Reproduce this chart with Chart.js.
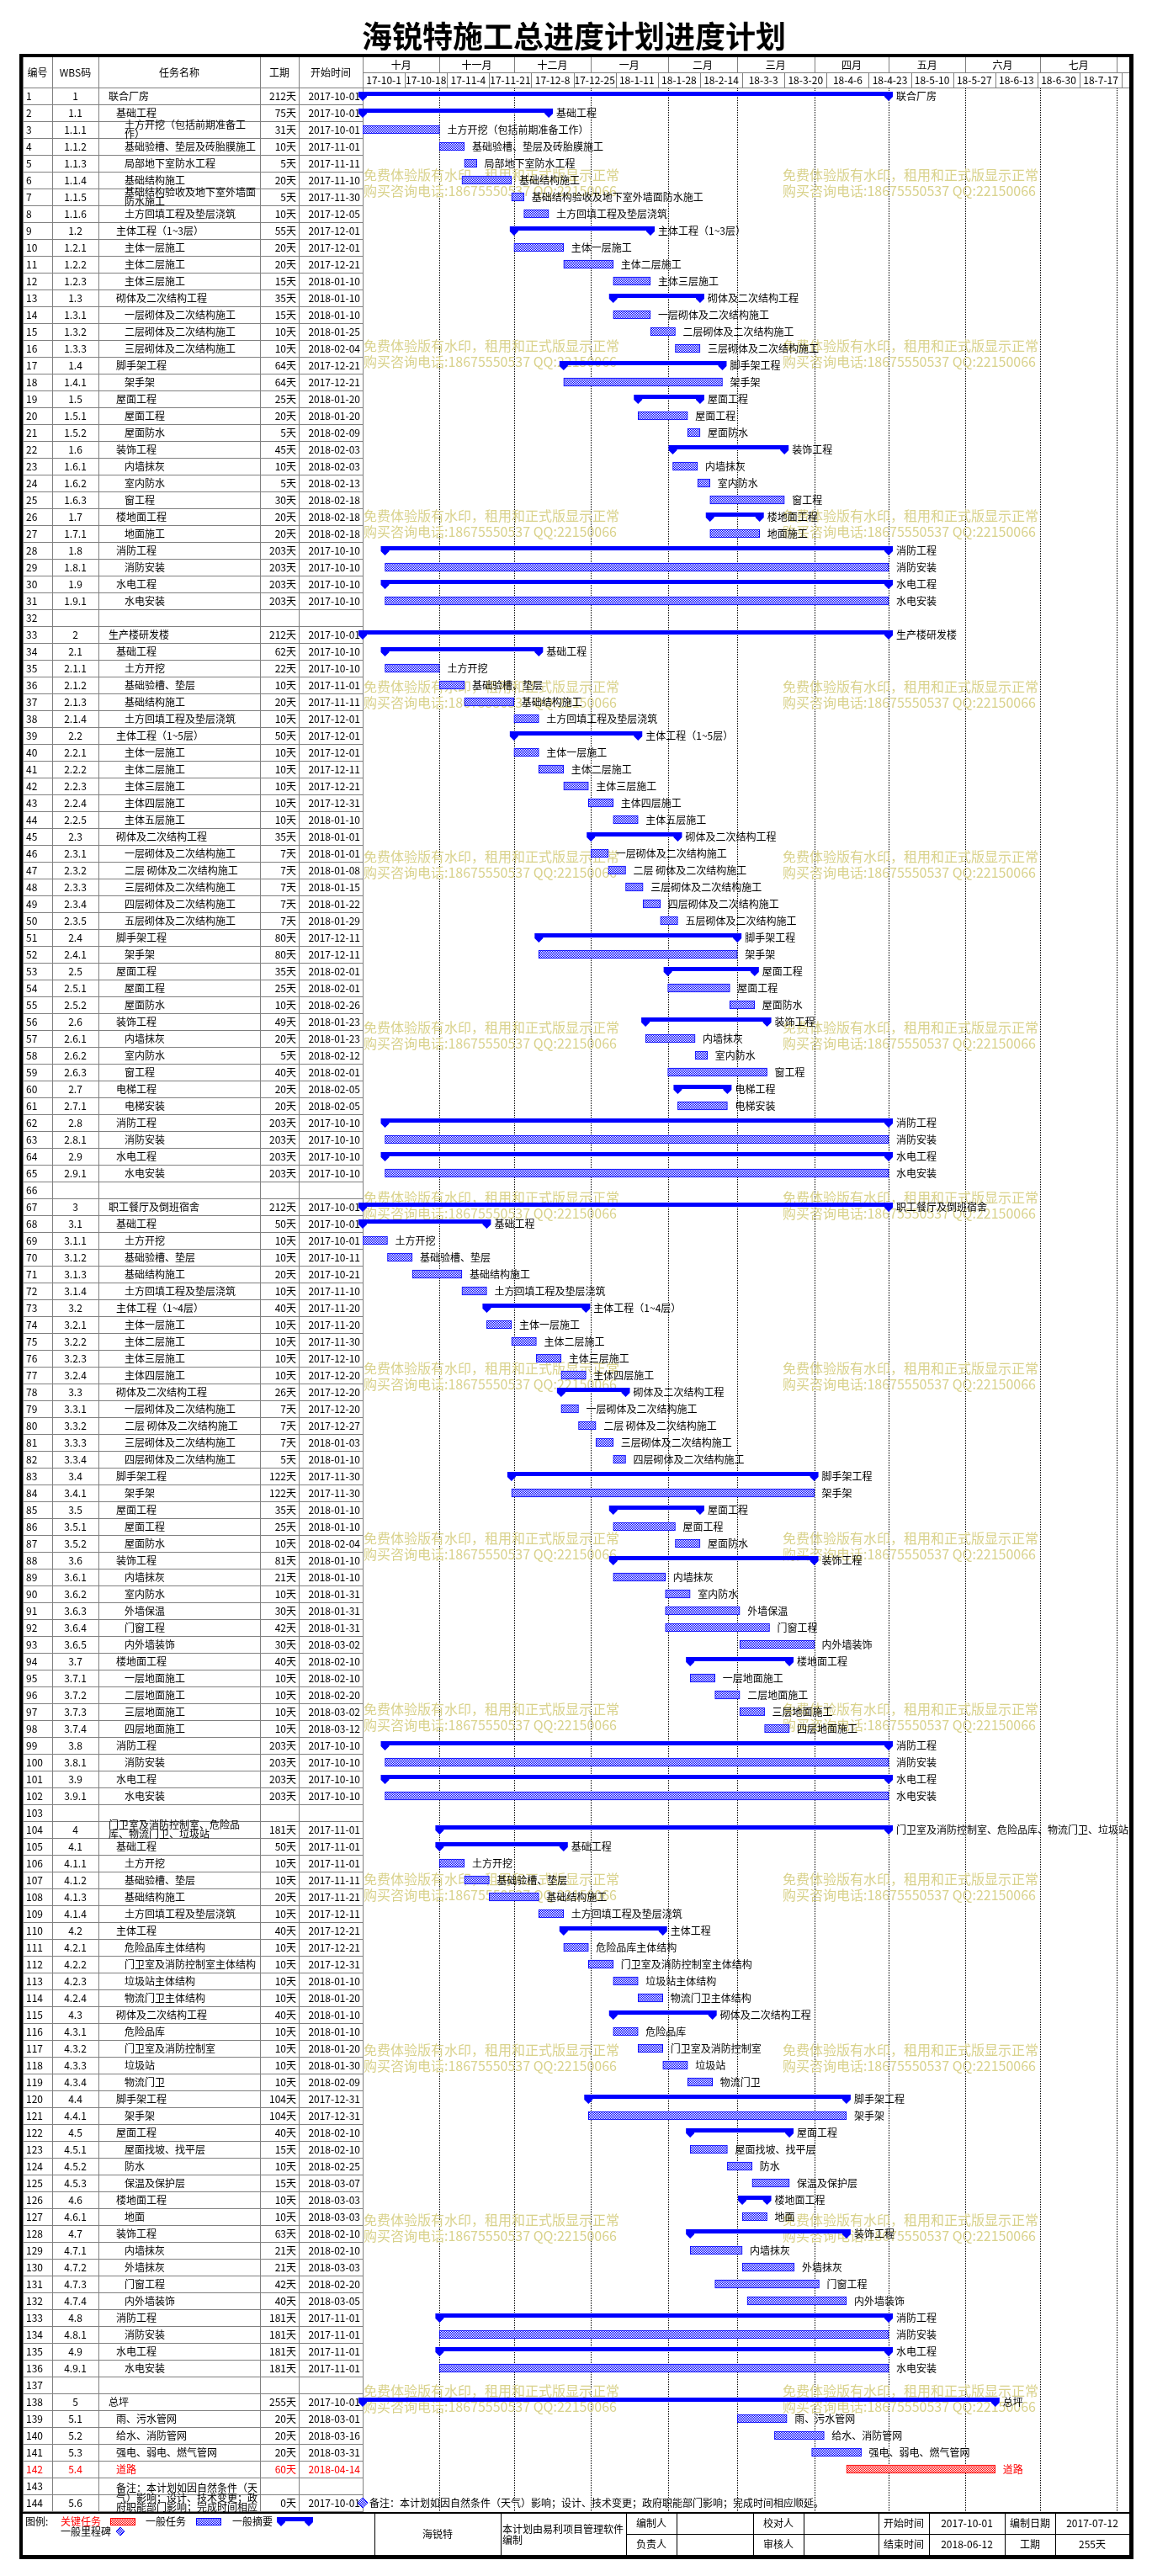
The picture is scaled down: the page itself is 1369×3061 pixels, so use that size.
<!DOCTYPE html>
<html lang="zh-CN">
<head>
    <meta charset="UTF-8">
    <title>海锐特施工总进度计划进度计划</title>
    <script src="https://cdn.jsdelivr.net/npm/chart.js"></script>
    <style>
        html, body { margin: 0; padding: 0; background: #fff; }
        canvas { display: block; }
    </style>
</head>
<body>
<canvas id="gantt" width="1369" height="3061"></canvas>
<script>
// ---- schedule data ----
const wbsCodes = [
    '1','1.1','1.1.1','1.1.2','1.1.3','1.1.4','1.1.5','1.1.6','1.2','1.2.1','1.2.2','1.2.3','1.3','1.3.1','1.3.2','1.3.3',
    '1.4','1.4.1','1.5','1.5.1','1.5.2','1.6','1.6.1','1.6.2','1.6.3','1.7','1.7.1','1.8','1.8.1','1.9','1.9.1','',
    '2','2.1','2.1.1','2.1.2','2.1.3','2.1.4','2.2','2.2.1','2.2.2','2.2.3','2.2.4','2.2.5','2.3','2.3.1','2.3.2','2.3.3','2.3.4','2.3.5',
    '2.4','2.4.1','2.5','2.5.1','2.5.2','2.6','2.6.1','2.6.2','2.6.3','2.7','2.7.1','2.8','2.8.1','2.9','2.9.1','',
    '3','3.1','3.1.1','3.1.2','3.1.3','3.1.4','3.2','3.2.1','3.2.2','3.2.3','3.2.4','3.3','3.3.1','3.3.2','3.3.3','3.3.4',
    '3.4','3.4.1','3.5','3.5.1','3.5.2','3.6','3.6.1','3.6.2','3.6.3','3.6.4','3.6.5','3.7','3.7.1','3.7.2','3.7.3','3.7.4',
    '3.8','3.8.1','3.9','3.9.1','',
    '4','4.1','4.1.1','4.1.2','4.1.3','4.1.4','4.2','4.2.1','4.2.2','4.2.3','4.2.4','4.3','4.3.1','4.3.2','4.3.3','4.3.4',
    '4.4','4.4.1','4.5','4.5.1','4.5.2','4.5.3','4.6','4.6.1','4.7','4.7.1','4.7.2','4.7.3','4.7.4','4.8','4.8.1','4.9','4.9.1','',
    '5','5.1','5.2','5.3','5.4','','5.6'
];

const taskNames = [
    '联合厂房','基础工程','土方开挖（包括前期准备工\n作）','基础验槽、垫层及砖胎膜施工','局部地下室防水工程','基础结构施工',
    '基础结构验收及地下室外墙面\n防水施工','土方回填工程及垫层浇筑','主体工程（1~3层）','主体一层施工','主体二层施工','主体三层施工',
    '砌体及二次结构工程','一层砌体及二次结构施工','二层砌体及二次结构施工','三层砌体及二次结构施工','脚手架工程','架手架',
    '屋面工程','屋面工程','屋面防水','装饰工程','内墙抹灰','室内防水','窗工程','楼地面工程','地面施工',
    '消防工程','消防安装','水电工程','水电安装','',
    '生产楼研发楼','基础工程','土方开挖','基础验槽、垫层','基础结构施工','土方回填工程及垫层浇筑',
    '主体工程（1~5层）','主体一层施工','主体二层施工','主体三层施工','主体四层施工','主体五层施工',
    '砌体及二次结构工程','一层砌体及二次结构施工','二层 砌体及二次结构施工','三层砌体及二次结构施工','四层砌体及二次结构施工','五层砌体及二次结构施工',
    '脚手架工程','架手架','屋面工程','屋面工程','屋面防水','装饰工程','内墙抹灰','室内防水','窗工程','电梯工程','电梯安装',
    '消防工程','消防安装','水电工程','水电安装','',
    '职工餐厅及倒班宿舍','基础工程','土方开挖','基础验槽、垫层','基础结构施工','土方回填工程及垫层浇筑',
    '主体工程（1~4层）','主体一层施工','主体二层施工','主体三层施工','主体四层施工',
    '砌体及二次结构工程','一层砌体及二次结构施工','二层 砌体及二次结构施工','三层砌体及二次结构施工','四层砌体及二次结构施工',
    '脚手架工程','架手架','屋面工程','屋面工程','屋面防水','装饰工程','内墙抹灰','室内防水','外墙保温','门窗工程','内外墙装饰',
    '楼地面工程','一层地面施工','二层地面施工','三层地面施工','四层地面施工','消防工程','消防安装','水电工程','水电安装','',
    '门卫室及消防控制室、危险品\n库、物流门卫、垃圾站','基础工程','土方开挖','基础验槽、垫层','基础结构施工','土方回填工程及垫层浇筑',
    '主体工程','危险品库主体结构','门卫室及消防控制室主体结构','垃圾站主体结构','物流门卫主体结构',
    '砌体及二次结构工程','危险品库','门卫室及消防控制室','垃圾站','物流门卫','脚手架工程','架手架',
    '屋面工程','屋面找坡、找平层','防水','保温及保护层','楼地面工程','地面','装饰工程','内墙抹灰','外墙抹灰','门窗工程','内外墙装饰',
    '消防工程','消防安装','水电工程','水电安装','',
    '总坪','雨、污水管网','给水、消防管网','强电、弱电、燃气管网','道路','',
    '备注：本计划如因自然条件（天\n气）影响；设计、技术变更；政\n府职能部门影响；完成时间相应\n顺延。'
];

// working days (天); null = empty row
const durations = [
    212,75,31,10,5,20,5,10,55,20,20,15,35,15,10,10,64,64,25,20,5,45,10,5,30,20,20,203,203,203,203,null,
    212,62,22,10,20,10,50,10,10,10,10,10,35,7,7,7,7,7,80,80,35,25,10,49,20,5,40,20,20,203,203,203,203,null,
    212,50,10,10,20,10,40,10,10,10,10,26,7,7,7,5,122,122,35,25,10,81,21,10,30,42,30,40,10,10,10,10,203,203,203,203,null,
    181,50,10,10,20,10,40,10,10,10,10,40,10,10,10,10,104,104,40,15,10,15,10,10,63,21,21,42,40,181,181,181,181,null,
    255,20,20,20,60,null,0
];

const startDates = [
    '2017-10-01','2017-10-01','2017-10-01','2017-11-01','2017-11-11','2017-11-10','2017-11-30','2017-12-05',
    '2017-12-01','2017-12-01','2017-12-21','2018-01-10','2018-01-10','2018-01-10','2018-01-25','2018-02-04',
    '2017-12-21','2017-12-21','2018-01-20','2018-01-20','2018-02-09','2018-02-03','2018-02-03','2018-02-13','2018-02-18',
    '2018-02-18','2018-02-18','2017-10-10','2017-10-10','2017-10-10','2017-10-10','',
    '2017-10-01','2017-10-10','2017-10-10','2017-11-01','2017-11-11','2017-12-01',
    '2017-12-01','2017-12-01','2017-12-11','2017-12-21','2017-12-31','2018-01-10',
    '2018-01-01','2018-01-01','2018-01-08','2018-01-15','2018-01-22','2018-01-29',
    '2017-12-11','2017-12-11','2018-02-01','2018-02-01','2018-02-26','2018-01-23','2018-01-23','2018-02-12','2018-02-01',
    '2018-02-05','2018-02-05','2017-10-10','2017-10-10','2017-10-10','2017-10-10','',
    '2017-10-01','2017-10-01','2017-10-01','2017-10-11','2017-10-21','2017-11-10',
    '2017-11-20','2017-11-20','2017-11-30','2017-12-10','2017-12-20',
    '2017-12-20','2017-12-20','2017-12-27','2018-01-03','2018-01-10',
    '2017-11-30','2017-11-30','2018-01-10','2018-01-10','2018-02-04',
    '2018-01-10','2018-01-10','2018-01-31','2018-01-31','2018-01-31','2018-03-02',
    '2018-02-10','2018-02-10','2018-02-20','2018-03-02','2018-03-12','2017-10-10','2017-10-10','2017-10-10','2017-10-10','',
    '2017-11-01','2017-11-01','2017-11-01','2017-11-11','2017-11-21','2017-12-11',
    '2017-12-21','2017-12-21','2017-12-31','2018-01-10','2018-01-20',
    '2018-01-10','2018-01-10','2018-01-20','2018-01-30','2018-02-09','2017-12-31','2017-12-31',
    '2018-02-10','2018-02-10','2018-02-25','2018-03-07','2018-03-03','2018-03-03',
    '2018-02-10','2018-02-10','2018-03-03','2018-02-20','2018-03-05',
    '2017-11-01','2017-11-01','2017-11-01','2017-11-01','',
    '2017-10-01','2018-03-01','2018-03-16','2018-03-31','2018-04-14','','2017-10-01'
];

const criticalRows = [142];

// timescale header
const monthNames = ['十月','十一月','十二月','一月','二月','三月','四月','五月','六月','七月'];
const monthStarts = ['2017-10-01','2017-11-01','2017-12-01','2018-01-01','2018-02-01','2018-03-01',
                     '2018-04-01','2018-05-01','2018-06-01','2018-07-01','2018-08-01'];
const dateTicks = ['17-10-1','17-10-18','17-11-4','17-11-21','17-12-8','17-12-25','18-1-11','18-1-28','18-2-14',
                   '18-3-3','18-3-20','18-4-6','18-4-23','18-5-10','18-5-27','18-6-13','18-6-30','18-7-17'];
const tickStep = 17;
const axisDays = 309;

const headerTitles = ['编号','WBS码','任务名称','工期','开始时间'];
const footerRow1 = ['编制人','','校对人','','开始时间','2017-10-01','编制日期','2017-07-12'];
const footerRow2 = ['负责人','','审核人','','结束时间','2018-06-12','工期','255天'];
const watermarkLines = ['免费体验版有水印，租用和正式版显示正常','购买咨询电话:18675550537 QQ:22150066'];

// ---- helpers ----
function dayOf(s) {
    const p = s.split('-').map(Number);
    const y = p[0] < 100 ? 2000 + p[0] : p[0];
    return (Date.UTC(y, p[1] - 1, p[2]) - Date.UTC(2017, 9, 1)) / 864e5;
}

const FONT = '"Noto Sans CJK SC", "Noto Sans", sans-serif';
const BLUE = '#0000ff';
const RED = '#ff0000';

const canvas = document.getElementById('gantt');
const ctx = canvas.getContext('2d');

function checker(color) {
    const c = document.createElement('canvas');
    c.width = 2; c.height = 2;
    const g = c.getContext('2d');
    g.fillStyle = '#ffffff';
    g.fillRect(0, 0, 2, 2);
    g.fillStyle = color;
    g.fillRect(0, 0, 1, 1);
    g.fillRect(1, 1, 1, 1);
    return ctx.createPattern(c, 'repeat');
}
const bluePattern = checker(BLUE);
const redPattern = checker(RED);

const rowCount = taskNames.length;
const rowLabels = taskNames.map((_, i) => String(i + 1));
const isCritical = i => criticalRows.includes(i + 1);
const isSummary = i => wbsCodes[i] !== '' && i + 1 < rowCount && wbsCodes[i + 1].startsWith(wbsCodes[i] + '.');

const taskBars = durations.map((d, i) =>
    (d && !isSummary(i)) ? [dayOf(startDates[i]), dayOf(startDates[i]) + d] : null);
const summaryBars = durations.map((d, i) =>
    (d && isSummary(i)) ? [dayOf(startDates[i]), dayOf(startDates[i]) + d] : null);
const milestones = [];
durations.forEach((d, i) => { if (d === 0) milestones.push({ x: dayOf(startDates[i]), y: rowLabels[i] }); });

function text(str, x, y, align, color, font) {
    ctx.font = font || '12px ' + FONT;
    ctx.fillStyle = color || '#000';
    ctx.textAlign = align || 'left';
    ctx.textBaseline = 'middle';
    ctx.fillText(str, x, y);
}
function hLine(x1, x2, y, color, w) {
    ctx.fillStyle = color; ctx.fillRect(x1, y, x2 - x1, w || 1);
}
function vLine(x, y1, y2, color, w) {
    ctx.fillStyle = color; ctx.fillRect(x, y1, w || 1, y2 - y1);
}
function summaryShape(l, r, c) {
    ctx.fillStyle = BLUE;
    ctx.fillRect(l - 5, c - 5, r - l + 10, 5);
    [l, r].forEach(p => {
        ctx.beginPath();
        ctx.moveTo(p - 5, c);
        ctx.lineTo(p - 5, c + 1);
        ctx.lineTo(p, c + 6);
        ctx.lineTo(p + 5, c + 1);
        ctx.lineTo(p + 5, c);
        ctx.closePath();
        ctx.fill();
    });
}
function diamond(x, y, r) {
    ctx.beginPath();
    ctx.moveTo(x, y - r); ctx.lineTo(x + r, y); ctx.lineTo(x, y + r); ctx.lineTo(x - r, y); ctx.closePath();
    ctx.fillStyle = bluePattern; ctx.fill();
    ctx.strokeStyle = BLUE; ctx.lineWidth = 1; ctx.stroke();
}

// column edges of the task table
const cols = [27, 62, 117, 309, 355, 431];
const GRAY = '#808080';

const ganttFrame = {
    id: 'ganttFrame',
    beforeDraw(chart) {
        ctx.save();
        ctx.fillStyle = '#fff';
        ctx.fillRect(0, 0, chart.width, chart.height);
        ctx.restore();
    },
    beforeDatasetsDraw(chart) {
        const xs = chart.scales.x, ys = chart.scales.y, area = chart.chartArea;
        const rowH = (ys.bottom - ys.top) / rowCount;
        const bodyBottom = area.bottom + 1;
        ctx.save();

        text('海锐特施工总进度计划进度计划', 682, 43, 'center', '#000', 'bold 36px ' + FONT);

        // header
        const hTop = 68, hMid = 86, hBot = area.top;
        hLine(cols[0], area.right, hBot, GRAY);
        hLine(area.left, area.right, hMid, GRAY);
        const hdrX = [44.5, 89.5, 213, 332, 393];
        headerTitles.forEach((t, k) => text(t, hdrX[k], 86, 'center'));
        monthStarts.forEach((m, k) => {
            const px = Math.round(xs.getPixelForValue(dayOf(m)));
            vLine(px, hTop, hMid, GRAY);
            if (k < monthNames.length) {
                const nx = xs.getPixelForValue(dayOf(monthStarts[k + 1]));
                text(monthNames[k], (px + nx) / 2, 77, 'center');
            }
        });
        dateTicks.forEach(t => {
            const a = xs.getPixelForValue(dayOf(t));
            const b = xs.getPixelForValue(dayOf(t) + tickStep);
            vLine(Math.round(a), hMid, hBot, GRAY);
            vLine(Math.round(b), hMid, hBot, GRAY);
            text(t, (a + b) / 2, 95, 'center');
        });

        // table grid
        cols.forEach(c => vLine(c, hTop, bodyBottom, GRAY));
        for (let i = 0; i <= rowCount; i++) {
            hLine(cols[0], cols[5], Math.round(ys.top + i * rowH), GRAY);
        }

        // month separators in the bar area
        monthStarts.slice(1).forEach(m => {
            const px = Math.round(xs.getPixelForValue(dayOf(m))) + 0.5;
            ctx.strokeStyle = '#000';
            ctx.lineWidth = 1;
            ctx.setLineDash([1, 1]);
            ctx.beginPath();
            ctx.moveTo(px, area.top + 1);
            ctx.lineTo(px, bodyBottom);
            ctx.stroke();
        });
        ctx.setLineDash([]);

        // watermark of the trial edition
        for (let k = 0; k < 14; k++) {
            const wy = Math.round(208 + k * 202.5);
            [432, 930].forEach(wx => {
                text(watermarkLines[0], wx, wy, 'left', '#d9d28c', '16px ' + FONT);
                text(watermarkLines[1], wx, wy + 19, 'left', '#d9d28c', '16px ' + FONT);
            });
        }

        // table rows
        for (let i = 0; i < rowCount; i++) {
            const cy = ys.getPixelForValue(i);
            const color = isCritical(i) ? RED : '#000';
            text(rowLabels[i], 31, cy, 'left', color);
            if (!wbsCodes[i]) continue;
            text(wbsCodes[i], 89.5, cy, 'center', color);
            const depth = wbsCodes[i].split('.').length;
            const indent = [129, 138, 148][depth - 1];
            const lines = taskNames[i].split('\n');
            lines.forEach((ln, k) => text(ln, indent, cy + (k - (lines.length - 1) / 2) * 11.5, 'left', color));
            text(durations[i] + '天', 352, cy, 'right', color);
            text(startDates[i], 428, cy, 'right', color);
        }
        ctx.restore();
    },
    afterDatasetsDraw(chart) {
        const xs = chart.scales.x, ys = chart.scales.y, area = chart.chartArea;
        ctx.save();

        // summary bars, drawn on the bar elements the scales placed
        const meta = chart.getDatasetMeta(1);
        summaryBars.forEach((b, i) => {
            if (!b) return;
            const el = meta.data[i];
            summaryShape(Math.min(el.x, el.base), Math.max(el.x, el.base), el.y);
        });

        // bar labels
        ctx.beginPath();
        ctx.rect(0, 0, area.right, chart.height);
        ctx.clip();
        for (let i = 0; i < rowCount; i++) {
            if (durations[i] === null) continue;
            const s = dayOf(startDates[i]);
            const endPx = xs.getPixelForValue(s + durations[i]);
            const lx = durations[i] === 0 ? endPx + 8 : endPx + 9;
            text(taskNames[i].replace(/\n/g, ''), lx, ys.getPixelForValue(i), 'left', isCritical(i) ? RED : '#000');
        }
        ctx.restore();
        ctx.save();

        // footer
        const fTop = 2985, fMid = 3011, fBot = 3036;
        ctx.fillStyle = '#fff';
        ctx.fillRect(27, fTop + 2, 1315, fBot - fTop - 2);
        hLine(27, 1342, fTop, '#000', 2);
        hLine(744, 1342, fMid, '#000');
        const fCols = [445, 595, 744, 804, 895, 955, 1044, 1104, 1194, 1254, 1342];
        fCols.forEach(c => vLine(c, fTop, fBot, '#000'));
        text('海锐特', 520, 3011, 'center');
        text('本计划由易利项目管理软件', 597, 3005, 'left');
        text('编制', 597, 3018, 'left');
        footerRow1.forEach((t, k) => text(t, (fCols[k + 2] + fCols[k + 3]) / 2, 2998.5, 'center'));
        footerRow2.forEach((t, k) => text(t, (fCols[k + 2] + fCols[k + 3]) / 2, 3023.5, 'center'));

        // legend
        text('图例:', 30, 2996, 'left');
        text('关键任务', 72, 2996, 'left', RED);
        ctx.fillStyle = RED; ctx.fillRect(131, 2992, 30, 9);
        ctx.fillStyle = redPattern; ctx.fillRect(132, 2993, 28, 7);
        text('一般任务', 173, 2996, 'left');
        ctx.fillStyle = BLUE; ctx.fillRect(233, 2992, 30, 9);
        ctx.fillStyle = bluePattern; ctx.fillRect(234, 2993, 28, 7);
        text('一般摘要', 276, 2996, 'left');
        summaryShape(334, 367, 2996);
        text('一般里程碑', 72, 3008, 'left');
        diamond(143, 3008, 5);

        // outer frame
        ctx.fillStyle = '#000';
        ctx.fillRect(23, 64, 1324, 4);
        ctx.fillRect(23, 64, 4, 2977);
        ctx.fillRect(1342, 64, 5, 2977);
        ctx.fillRect(23, 3036, 1324, 5);
        ctx.restore();
    }
};

new Chart(ctx, {
    type: 'bar',
    data: {
        labels: rowLabels,
        datasets: [
            {
                label: '一般任务',
                data: taskBars,
                backgroundColor: taskBars.map((_, i) => isCritical(i) ? redPattern : bluePattern),
                borderColor: taskBars.map((_, i) => isCritical(i) ? RED : BLUE),
                borderWidth: 1,
                borderSkipped: false,
                barThickness: 10,
                grouped: false
            },
            {
                label: '一般摘要',
                data: summaryBars,
                backgroundColor: 'rgba(0,0,0,0)',
                borderWidth: 0,
                barThickness: 10,
                grouped: false
            },
            {
                type: 'scatter',
                label: '一般里程碑',
                data: milestones,
                pointStyle: 'rectRot',
                pointRadius: 6,
                backgroundColor: bluePattern,
                borderColor: BLUE,
                borderWidth: 1,
                clip: false
            }
        ]
    },
    options: {
        indexAxis: 'y',
        responsive: false,
        animation: false,
        devicePixelRatio: 1,
        events: [],
        layout: { padding: { left: 431, top: 104, right: 27, bottom: 77 } },
        scales: {
            x: { type: 'linear', min: 0, max: axisDays, display: false },
            y: { type: 'category', display: false }
        },
        plugins: {
            legend: { display: false },
            tooltip: { enabled: false }
        }
    },
    plugins: [ganttFrame]
});
</script>
</body>
</html>
